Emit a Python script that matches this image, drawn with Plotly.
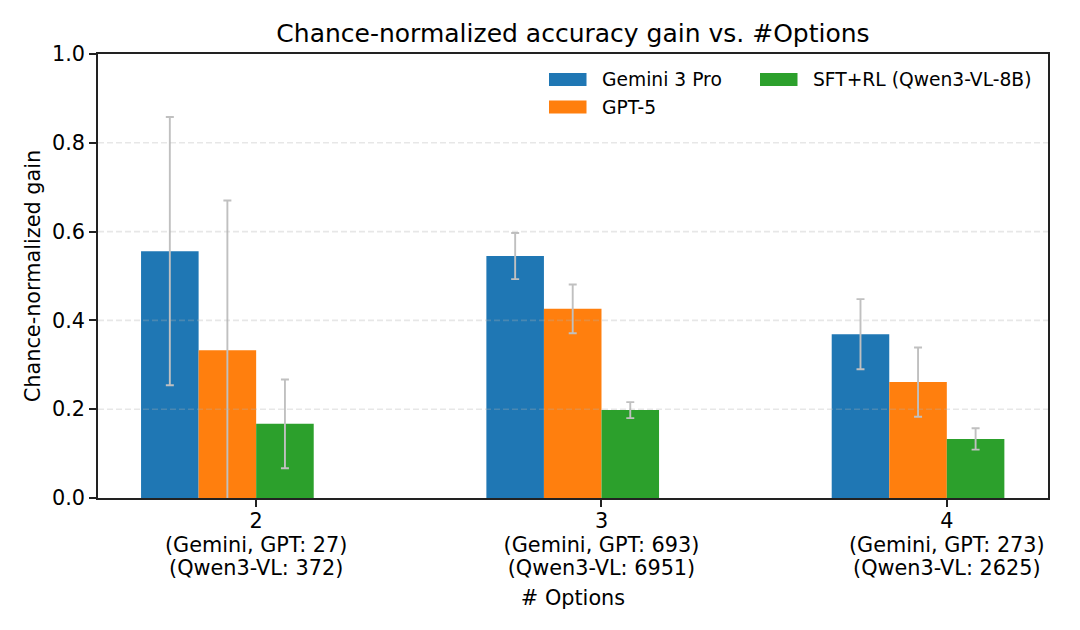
import plotly.graph_objects as go

# ---- data ----
options = [2, 3, 4]
n_gemini_gpt = [27, 693, 273]
n_qwen = [372, 6951, 2625]
series_names = ["Gemini 3 Pro", "GPT-5", "SFT+RL (Qwen3-VL-8B)"]
gemini = [0.556, 0.545, 0.369]
gemini_err = [0.302, 0.052, 0.079]
gpt5 = [0.333, 0.426, 0.261]
gpt5_err = [0.337, 0.055, 0.078]
sftrl = [0.167, 0.198, 0.133]
sftrl_err = [0.100, 0.018, 0.024]
colors = ["#1f77b4", "#ff7f0e", "#2ca02c"]
y_ticks = [0.0, 0.2, 0.4, 0.6, 0.8, 1.0]

SP = '<span style="font-size:20.8px">'
tick_text = [f"{SP}{o}</span><br>{SP}(Gemini, GPT: {a})</span><br>{SP}(Qwen3-VL: {b})</span>"
             for o, a, b in zip(options, n_gemini_gpt, n_qwen)]
pos = list(range(len(options)))
w = 1 / 6
offsets = [-2 * w, -w, 0.0]

# page has an 8px body margin -> figure is drawn 8px right/down
W, H = 1072, 622
L, R, T, B = 90, 32, 46, 132
PW, PH = W - L - R, H - T - B

FONT = "DejaVu Sans"
fig = go.Figure()
for name, vals, errs, col, off in zip(series_names,
                                      [gemini, gpt5, sftrl],
                                      [gemini_err, gpt5_err, sftrl_err],
                                      colors, offsets):
    fig.add_trace(go.Bar(
        x=pos, y=vals, width=w, offset=off, name=name,
        marker=dict(color=col, line=dict(width=0)),
        error_y=dict(type="data", array=errs, visible=True,
                     color="#c0c0c0", thickness=1.9, width=4),
        showlegend=False,
    ))

# grid lines drawn above bars (semi-transparent dashed)
for t in y_ticks[1:-1]:
    fig.add_shape(type="line", xref="paper", yref="y", x0=0, x1=1, y0=t, y1=t,
                  line=dict(color="rgba(176,176,176,0.3)", width=1.6, dash="6px,3px"),
                  layer="above")

# custom legend (matplotlib-like wide patches, 2 columns)
def px_x(p):  # reference page pixel -> paper x
    return (p - 8 - L) / PW

def px_y(p):  # reference page pixel -> paper y
    return (H - B - (p - 8)) / PH

legend_items = [(series_names[0], colors[0], 549, 79.5),
                (series_names[1], colors[1], 549, 107),
                (series_names[2], colors[2], 760, 79.5)]
for name, col, xp, yp in legend_items:
    fig.add_shape(type="rect", xref="paper", yref="paper",
                  x0=px_x(xp), x1=px_x(xp + 37.5), y0=px_y(yp + 6.5), y1=px_y(yp - 6.5),
                  fillcolor=col, line=dict(width=0), layer="above")
    fig.add_annotation(xref="paper", yref="paper", x=px_x(xp + 51), y=px_y(yp),
                       text=name, showarrow=False, xanchor="left", yanchor="middle",
                       font=dict(family=FONT, size=18.7, color="#000"))

axis_common = dict(showline=True, linecolor="#222", linewidth=1.6, mirror=True,
                   ticks="outside", ticklen=7, tickwidth=1.6, tickcolor="#222",
                   zeroline=False, showgrid=False)

fig.update_layout(
    width=W, height=H,
    margin=dict(l=L, r=R, t=T, b=B),
    paper_bgcolor="white", plot_bgcolor="white",
    barmode="overlay",
    font=dict(family=FONT, color="#000"),
    title=dict(text="Chance-normalized accuracy gain vs. #Options",
               x=(L + PW / 2) / W, xanchor="center", y=1 - 25 / H, yanchor="middle",
               font=dict(family=FONT, size=25, color="#000")),
    xaxis=dict(range=[-0.458, 2.293], tickvals=pos, ticktext=tick_text,
               tickfont=dict(family=FONT, size=18, color="#000"),
               title=dict(text="# Options", standoff=11,
                          font=dict(family=FONT, size=20.8, color="#000")),
               **axis_common),
    yaxis=dict(range=[0, 1.0], tickvals=y_ticks, tickformat=".1f",
               tickfont=dict(family=FONT, size=20.8, color="#000"),
               title=dict(text="Chance-normalized gain", standoff=6,
                          font=dict(family=FONT, size=20.8, color="#000")),
               **axis_common),
)

fig.write_html("out.html")
